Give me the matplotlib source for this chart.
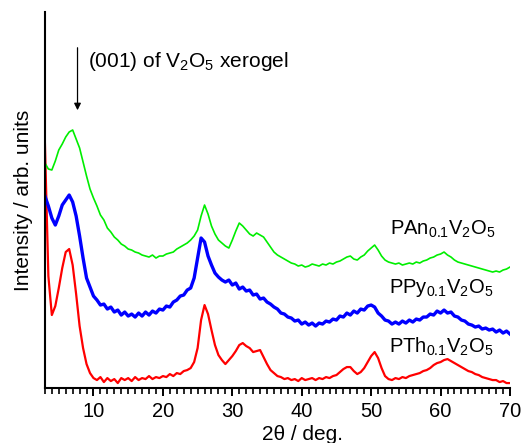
import matplotlib
matplotlib.use("Agg")
import matplotlib.pyplot as plt
from matplotlib.ticker import MultipleLocator

plt.rcParams["font.family"] = ["Liberation Sans", "DejaVu Sans"]
plt.rcParams["mathtext.fontset"] = "custom"
plt.rcParams["mathtext.rm"] = "Liberation Sans"
plt.rcParams["mathtext.it"] = "Liberation Sans:italic"

# 2-theta grid (deg), read every 0.5 deg
two_theta = [
    3.0, 3.5, 4.0, 4.5, 5.0, 5.5, 6.0, 6.5, 7.0, 7.5,
    8.0, 8.5, 9.0, 9.5, 10.0, 10.5, 11.0, 11.5, 12.0, 12.5,
    13.0, 13.5, 14.0, 14.5, 15.0, 15.5, 16.0, 16.5, 17.0, 17.5,
    18.0, 18.5, 19.0, 19.5, 20.0, 20.5, 21.0, 21.5, 22.0, 22.5,
    23.0, 23.5, 24.0, 24.5, 25.0, 25.5, 26.0, 26.5, 27.0, 27.5,
    28.0, 28.5, 29.0, 29.5, 30.0, 30.5, 31.0, 31.5, 32.0, 32.5,
    33.0, 33.5, 34.0, 34.5, 35.0, 35.5, 36.0, 36.5, 37.0, 37.5,
    38.0, 38.5, 39.0, 39.5, 40.0, 40.5, 41.0, 41.5, 42.0, 42.5,
    43.0, 43.5, 44.0, 44.5, 45.0, 45.5, 46.0, 46.5, 47.0, 47.5,
    48.0, 48.5, 49.0, 49.5, 50.0, 50.5, 51.0, 51.5, 52.0, 52.5,
    53.0, 53.5, 54.0, 54.5, 55.0, 55.5, 56.0, 56.5, 57.0, 57.5,
    58.0, 58.5, 59.0, 59.5, 60.0, 60.5, 61.0, 61.5, 62.0, 62.5,
    63.0, 63.5, 64.0, 64.5, 65.0, 65.5, 66.0, 66.5, 67.0, 67.5,
    68.0, 68.5, 69.0, 69.5, 70.0,
]

# intensities (arb. units, curves already offset as in the figure)
pth = [
    244, 110, 71, 80, 98, 118, 134, 137, 121, 92,
    60, 38, 22, 13, 8, 6, 9, 4, 8, 5,
    7, 3, 8, 6, 8, 5, 9, 6, 8, 7,
    10, 7, 9, 8, 10, 9, 12, 10, 13, 12,
    15, 16, 18, 24, 38, 66, 81, 72, 56, 41,
    31, 26, 22, 26, 30, 35, 41, 43, 40, 38,
    34, 35, 36, 29, 22, 16, 13, 10, 9, 7,
    8, 6, 7, 5, 8, 6, 7, 8, 6, 8,
    7, 9, 8, 10, 11, 14, 17, 19, 19, 15,
    12, 14, 18, 24, 30, 34, 28, 18, 10, 7,
    6, 8, 7, 9, 8, 10, 11, 12, 13, 15,
    16, 18, 21, 23, 24, 26, 27, 25, 23, 21,
    19, 17, 15, 14, 12, 11, 9, 8, 7, 6,
    6, 4, 5, 3, 3,
]

ppy = [
    190, 180, 168, 161, 170, 181, 186, 191, 184, 170,
    150, 128, 108, 99, 90, 86, 81, 82, 77, 79,
    74, 76, 71, 74, 70, 72, 69, 73, 70, 74,
    71, 75, 73, 77, 76, 80, 79, 84, 86, 90,
    91, 96, 98, 108, 128, 148, 144, 130, 121, 113,
    109, 106, 104, 106, 101, 103, 97, 99, 95, 96,
    91, 92, 87, 88, 84, 82, 79, 77, 73, 72,
    69, 68, 65, 66, 62, 64, 61, 63, 60, 63,
    62, 65, 64, 67, 66, 70, 69, 73, 71, 75,
    73, 77, 76, 80, 81, 79, 73, 70, 66, 65,
    62, 64, 62, 65, 63, 66, 64, 67, 66, 69,
    69, 72, 71, 75, 73, 76, 73, 74, 70, 69,
    66, 65, 62, 61, 59, 60, 57, 58, 56, 57,
    54, 56, 53, 55, 52,
]

pan = [
    223, 217, 216, 225, 236, 242, 249, 254, 256, 247,
    238, 224, 210, 197, 188, 180, 171, 166, 158, 154,
    149, 146, 142, 140, 137, 136, 134, 133, 131, 130,
    129, 131, 128, 130, 130, 132, 133, 134, 137, 139,
    141, 143, 146, 150, 156, 170, 181, 172, 160, 152,
    146, 143, 140, 138, 146, 155, 163, 160, 156, 152,
    150, 153, 151, 149, 144, 139, 134, 131, 129, 127,
    125, 123, 122, 120, 121, 119, 120, 122, 121, 120,
    122, 121, 123, 122, 124, 125, 127, 129, 130, 127,
    126, 129, 131, 135, 138, 141, 136, 130, 126, 124,
    123, 122, 123, 121, 122, 123, 122, 124, 123, 125,
    126, 128, 129, 131, 132, 134, 131, 129, 126, 124,
    123, 122, 121, 120, 119, 118, 117, 116, 115, 114,
    115, 114, 116, 117, 119,
]

labels = [r"PAn$_{0.1}$V$_2$O$_5$", r"PPy$_{0.1}$V$_2$O$_5$", r"PTh$_{0.1}$V$_2$O$_5$"]

fig = plt.figure(figsize=(5.22, 4.43), dpi=100)
ax = fig.add_axes([0.086, 0.124, 0.891, 0.849])

ax.plot(two_theta, pth, color="#ff0000", linewidth=1.6)
ax.plot(two_theta, ppy, color="#0000ff", linewidth=2.4)
ax.plot(two_theta, pan, color="#00ee00", linewidth=1.2)

ax.text(52.7, 151, labels[0], fontsize=14.5, va="baseline")
ax.text(52.5, 93, labels[1], fontsize=14.5, va="baseline")
ax.text(52.5, 33, labels[2], fontsize=14.5, va="baseline")

ax.annotate("", xy=(7.7, 273), xytext=(7.7, 341),
            arrowprops=dict(arrowstyle="-|>", color="black", lw=0.9,
                            mutation_scale=10))
ax.text(9.2, 319, r"(001) of V$_2$O$_5$ xerogel", fontsize=15, va="baseline")

ax.set_xlim(3, 70)
ax.set_ylim(-2, 374)
ax.xaxis.set_major_locator(MultipleLocator(10))
ax.xaxis.set_minor_locator(MultipleLocator(1))
ax.set_yticks([])
ax.spines["top"].set_visible(False)
ax.spines["right"].set_visible(False)
ax.spines["left"].set_linewidth(1.5)
ax.spines["bottom"].set_linewidth(1.5)
ax.tick_params(axis="x", which="major", direction="out", length=6, width=1.4,
               labelsize=14.5, pad=4)
ax.tick_params(axis="x", which="minor", direction="out", length=4, width=1.2)

ax.set_xlabel("2θ / deg.", fontsize=15)
ax.xaxis.set_label_coords(0.553, -0.098)
ax.set_ylabel("Intensity / arb. units", fontsize=15)
ax.yaxis.set_label_coords(-0.026, 0.5)

fig.savefig("out.png", dpi=100)
plt.close(fig)
